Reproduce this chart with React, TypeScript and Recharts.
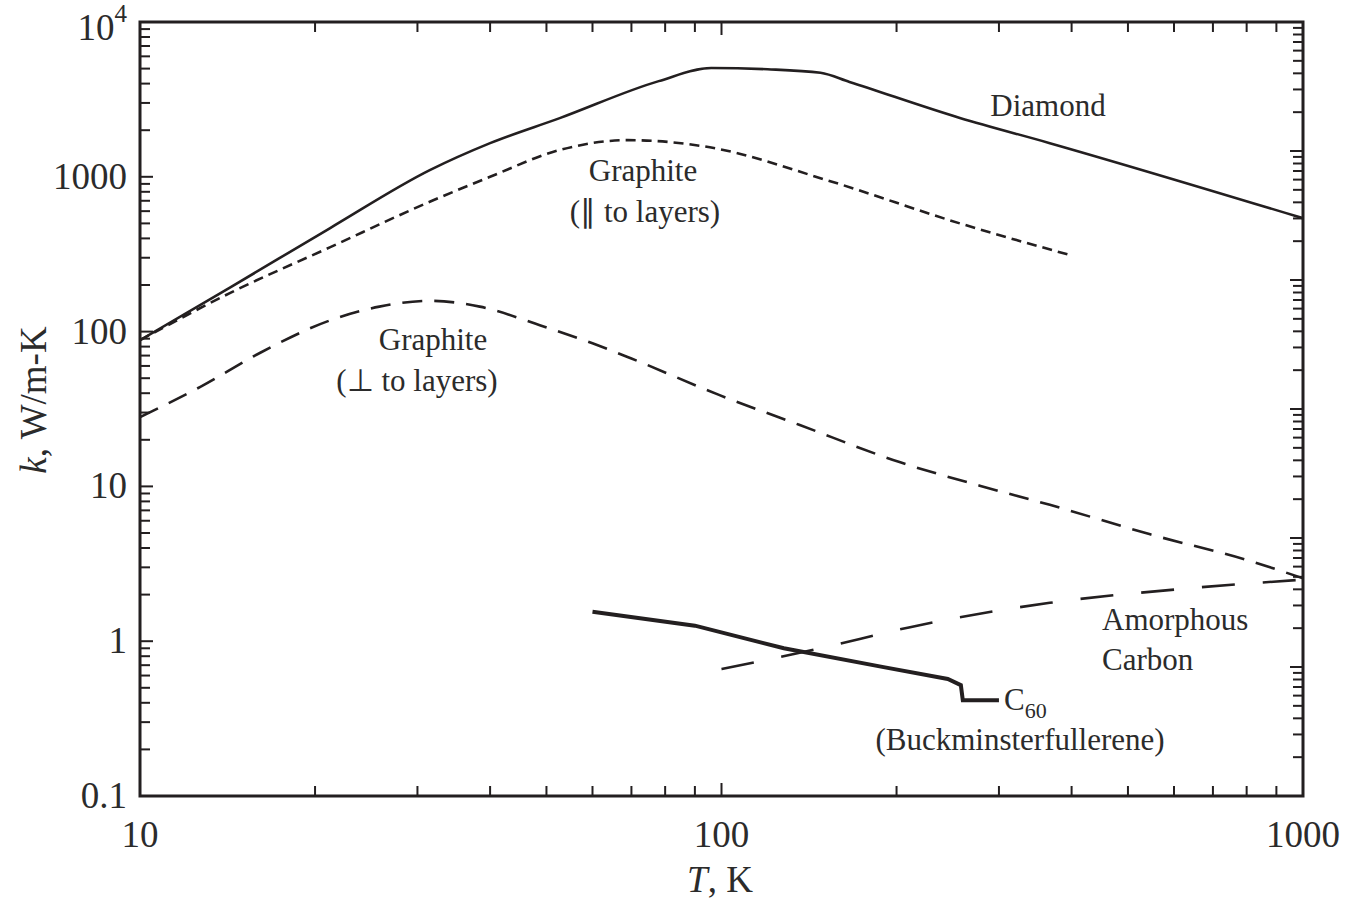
import React from 'react'
import { LineChart, Line, XAxis, YAxis, ReferenceArea, ReferenceLine } from 'recharts'

const INK = '#231f20'
const TEXT = '#2b2b2b'
const FONT = "'Liberation Serif', 'Times New Roman', serif"

// values (T in K, k in W/m-K)
const diamondT = [10, 14.3, 21.2, 31.5, 40, 52.7, 78, 96, 120, 148, 166, 257, 367, 1000]
const diamondK = [88, 193, 465, 1104, 1650, 2393, 4150, 5040, 4950, 4700, 4100, 2400, 1650, 540]

const graphiteParT = [10, 14.3, 21.2, 31.5, 40, 52.7, 69, 95.5, 152, 257, 400]
const graphiteParK = [88, 178, 350, 690, 1000, 1490, 1725, 1550, 950, 500, 310]

const graphitePerpT = [10, 12.7, 16.1, 21.2, 25.8, 31.5, 38.4, 48.7, 60, 70, 99, 136, 203, 278, 367, 546, 810, 1000]
const graphitePerpK = [28, 44, 73, 118, 145, 158, 145, 110, 84, 67, 39, 25, 14.3, 10.1, 7.6, 4.9, 3.3, 2.55]

const amorphousT = [100, 146, 217, 367, 622, 1000]
const amorphousK = [0.66, 0.89, 1.26, 1.77, 2.18, 2.5]

const c60T = [60, 90, 128, 190, 245, 258, 260, 300]
const c60K = [1.55, 1.26, 0.9, 0.68, 0.57, 0.52, 0.415, 0.415]

// axis ticks
const xMajor = [10, 100, 1000]
const xMinor = [20, 30, 40, 50, 60, 70, 80, 90, 200, 300, 400, 500, 600, 700, 800, 900]
const yMajor = [0.1, 1, 10, 100, 1000, 10000]
const yMinor = [
  0.2, 0.3, 0.4, 0.5, 0.6, 0.7, 0.8, 0.9,
  2, 3, 4, 5, 6, 7, 8, 9,
  20, 30, 40, 50, 60, 70, 80, 90,
  200, 300, 400, 500, 600, 700, 800, 900,
  2000, 3000, 4000, 5000, 6000, 7000, 8000, 9000,
]
// the right-hand frame carries its own six-decade tick scale
const rMajor = [0.01, 0.1, 1, 10, 100, 1000, 10000]
const rMinor = [0.02, 0.03, 0.04, 0.05, 0.06, 0.07, 0.08, 0.09, ...yMinor]

const pairs = (t: number[], k: number[]) => t.map((T, i) => ({ T, k: k[i] }))

const diamond = pairs(diamondT, diamondK)
const graphitePar = pairs(graphiteParT, graphiteParK)
const graphitePerp = pairs(graphitePerpT, graphitePerpK)
const amorphous = pairs(amorphousT, amorphousK)
const c60 = pairs(c60T, c60K)

// chart geometry
const W = 1351
const H = 903
const M = { top: 22, right: 48, left: 0, bottom: 0 }
const Y_AXIS_W = 140
const X_AXIS_H = 107
const plotW = W - M.left - M.right - Y_AXIS_W
const plotH = H - M.top - M.bottom - X_AXIS_H

// inward tick lengths in px, turned into log-scale factors
const xFactor = (px: number) => Math.pow(10, (px * 2) / plotW)
const yFactor = (px: number, decades: number) => Math.pow(10, (px * decades) / plotH)
const MAJOR = 13
const MINOR = 10

const XTick = ({ x, y, payload }: any) => (
  <text x={x} y={y + 43} textAnchor="middle" fontSize={37} fontFamily={FONT} fill={TEXT}>
    {payload.value}
  </text>
)

const YTick = ({ y, payload }: any) => {
  const v = payload.value
  if (v === 10000) {
    return (
      <text x={127} y={y + 18} textAnchor="end" fontSize={37} fontFamily={FONT} fill={TEXT}>
        10<tspan dy={-18} fontSize={25}>4</tspan>
      </text>
    )
  }
  return (
    <text x={127} y={y + 12} textAnchor="end" fontSize={37} fontFamily={FONT} fill={TEXT}>
      {v}
    </text>
  )
}

const tickLine = (key: string, yAxisId: string, a: { x: number; y: number }, b: { x: number; y: number }) => (
  <ReferenceLine
    key={key}
    xAxisId="x"
    yAxisId={yAxisId}
    segment={[a, b]}
    stroke={INK}
    strokeWidth={2}
    ifOverflow="visible"
  />
)

export default function App() {
  const xTicks = [
    ...xMajor.map((t) => [t, MAJOR] as const),
    ...xMinor.map((t) => [t, MINOR] as const),
  ]
  const yTicks = [
    ...yMajor.map((v) => [v, MAJOR] as const),
    ...yMinor.map((v) => [v, MINOR] as const),
  ]
  const rTicks = [
    ...rMajor.map((v) => [v, MAJOR] as const),
    ...rMinor.map((v) => [v, MINOR] as const),
  ]

  return (
    <div style={{ position: 'absolute', left: 0, top: 0, width: W, height: H, background: '#fff' }}>
      <LineChart width={W} height={H} margin={M}>
        <XAxis
          xAxisId="x"
          type="number"
          dataKey="T"
          scale="log"
          domain={[10, 1000]}
          allowDataOverflow
          ticks={xMajor}
          tick={<XTick />}
          tickLine={false}
          axisLine={false}
          height={X_AXIS_H}
        />
        <YAxis
          yAxisId="y"
          type="number"
          scale="log"
          domain={[0.1, 10000]}
          allowDataOverflow
          ticks={yMajor}
          tick={<YTick />}
          tickLine={false}
          axisLine={false}
          width={Y_AXIS_W}
        />
        <YAxis yAxisId="yr" orientation="right" hide type="number" scale="log"
          domain={[0.01, 10000]} allowDataOverflow />

        {xTicks.map(([t, len]) =>
          tickLine(`b${t}`, 'y', { x: t, y: 0.1 }, { x: t, y: 0.1 * yFactor(len, 5) })
        )}
        {xTicks.map(([t, len]) =>
          tickLine(`t${t}`, 'y', { x: t, y: 10000 }, { x: t, y: 10000 / yFactor(len, 5) })
        )}
        {yTicks.map(([v, len]) =>
          tickLine(`l${v}`, 'y', { x: 10, y: v }, { x: 10 * xFactor(len), y: v })
        )}
        {rTicks.map(([v, len]) =>
          tickLine(`r${v}`, 'yr', { x: 1000, y: v }, { x: 1000 / xFactor(len), y: v })
        )}

        <ReferenceArea xAxisId="x" yAxisId="y" x1={10} x2={1000} y1={0.1} y2={10000}
          fill="none" fillOpacity={0} stroke={INK} strokeWidth={3} ifOverflow="visible" />

        <Line data={diamond} dataKey="k" xAxisId="x" yAxisId="y" type="monotone"
          stroke={INK} strokeWidth={2.6} dot={false} isAnimationActive={false} />
        <Line data={graphitePar} dataKey="k" xAxisId="x" yAxisId="y" type="monotone"
          stroke={INK} strokeWidth={2.6} strokeDasharray="10 6" dot={false} isAnimationActive={false} />
        <Line data={graphitePerp} dataKey="k" xAxisId="x" yAxisId="y" type="monotone"
          stroke={INK} strokeWidth={2.6} strokeDasharray="20 12" dot={false} isAnimationActive={false} />
        <Line data={amorphous} dataKey="k" xAxisId="x" yAxisId="y" type="monotone"
          stroke={INK} strokeWidth={2.6} strokeDasharray="33 28" dot={false} isAnimationActive={false} />
        <Line data={c60} dataKey="k" xAxisId="x" yAxisId="y" type="linear"
          stroke={INK} strokeWidth={4} dot={false} isAnimationActive={false} />
      </LineChart>

      <svg width={W} height={H} style={{ position: 'absolute', left: 0, top: 0, pointerEvents: 'none' }}
        fontFamily={FONT} fill={TEXT}>
        <text x={1048} y={116} fontSize={31} textAnchor="middle">Diamond</text>
        <text x={643} y={181} fontSize={31} textAnchor="middle">Graphite</text>
        <text x={645} y={222} fontSize={31} textAnchor="middle">(∥ to layers)</text>
        <text x={433} y={350} fontSize={31} textAnchor="middle">Graphite</text>
        <text x={417} y={391} fontSize={31} textAnchor="middle">(⊥ to layers)</text>
        <text x={1102} y={630} fontSize={31}>Amorphous</text>
        <text x={1102} y={670} fontSize={31}>Carbon</text>
        <text x={1004} y={710} fontSize={31}>
          C<tspan dy={8} fontSize={22}>60</tspan>
        </text>
        <text x={1020} y={750} fontSize={31} textAnchor="middle">(Buckminsterfullerene)</text>
        <text x={720} y={892} fontSize={37} textAnchor="middle">
          <tspan fontStyle="italic">T</tspan>, K
        </text>
        <text transform="translate(46,400) rotate(-90)" fontSize={37} textAnchor="middle">
          <tspan fontStyle="italic">k</tspan>, W/m-K
        </text>
      </svg>
    </div>
  )
}
